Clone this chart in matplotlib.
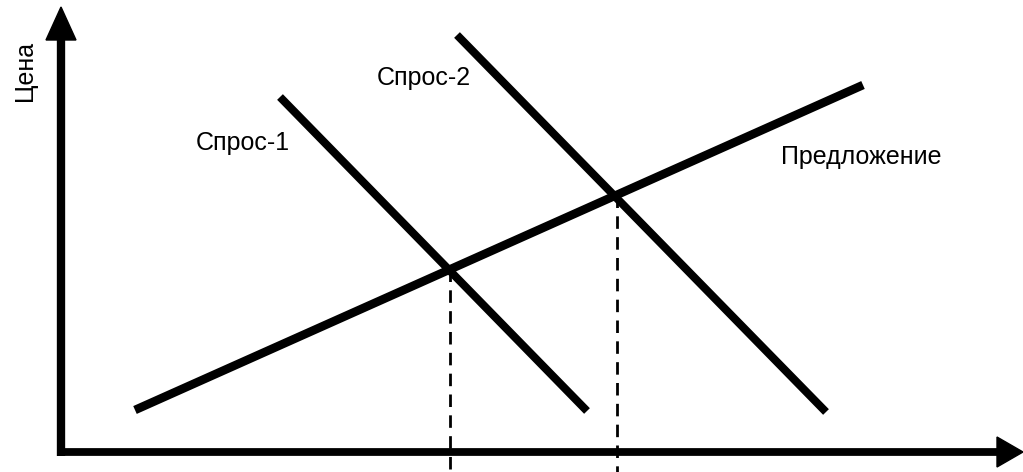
import matplotlib
matplotlib.use("Agg")
import matplotlib.pyplot as plt
from matplotlib.patches import Polygon

plt.rcParams['font.family'] = ['Liberation Sans', 'DejaVu Sans']

# Data (quantity, price) in chart units
supply_q = [74, 802]
supply_p = [42, 367]
demand1_q = [219, 526]
demand1_p = [355, 41]
demand2_q = [396, 765]
demand2_p = [417, 40]
equilibrium_q = [389, 556]
equilibrium_p = [183, 257]

labels = {
    "Спрос-1": (182, 309),
    "Спрос-2": (363, 374),
    "Предложение": (800, 295),
}
y_label = "Цена"

fig = plt.figure(figsize=(10.23, 4.72), dpi=100)
ax = fig.add_axes([0, 0, 1, 1])
ax.set_xlim(-61, 962)
ax.set_ylim(-20, 452)
ax.axis('off')

# axes with arrows
ax.plot([-4, 940], [0, 0], color='black', lw=5.6, solid_capstyle='butt')
ax.plot([0, 0], [-4, 415], color='black', lw=6.0, solid_capstyle='butt')
ax.add_patch(Polygon([[936, 15], [936, -15], [962, 0]], closed=True, color='black'))
ax.add_patch(Polygon([[-15, 412], [15, 412], [0, 445]], closed=True, color='black'))

# curves
ax.plot(supply_q, supply_p, color='black', lw=6.2, solid_capstyle='butt')
ax.plot(demand1_q, demand1_p, color='black', lw=5.8, solid_capstyle='butt')
ax.plot(demand2_q, demand2_p, color='black', lw=5.8, solid_capstyle='butt')

# dashed equilibrium lines
for q, p in zip(equilibrium_q, equilibrium_p):
    ax.plot([q, q], [p, -20], color='black', lw=2.0, linestyle=(0, (4.5, 3.0)))

for text, (x, y) in labels.items():
    ax.text(x, y, text, fontsize=18, ha='center', va='center', color='black',
            fontweight='medium')

ax.text(-36, 381, y_label, fontsize=18, rotation=90, ha='center', va='center',
        color='black', fontweight='medium')

fig.savefig("out.png", dpi=100, facecolor='white')
